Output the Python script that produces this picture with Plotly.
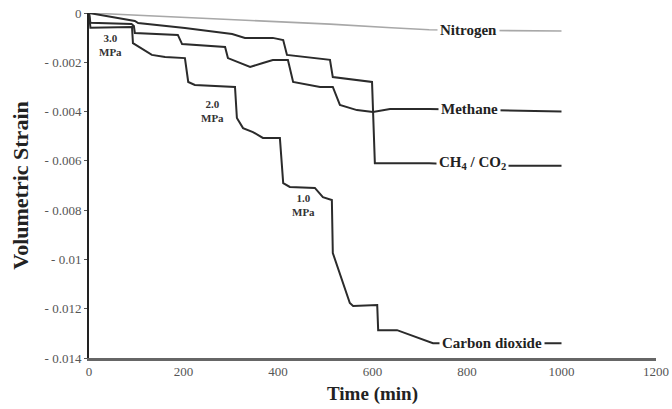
import plotly.graph_objects as go

# ---- data ----
nitrogen_t = [0, 100, 200, 300, 400, 510, 640, 720, 850, 1000]
nitrogen_s = [0, -0.00009, -0.00018, -0.00028, -0.00036, -0.00045, -0.0006, -0.00068, -0.00071, -0.00073]

methane_t = [0, 3, 90, 95, 97, 188, 197, 288, 294, 330, 341, 368, 389, 421, 432, 489, 516, 531, 567, 601, 637, 720, 850, 1000]
methane_s = [0, -0.0004, -0.00045, -0.00053, -0.00081, -0.00089, -0.00126, -0.00138, -0.00183, -0.00211, -0.00219,
             -0.00203, -0.00191, -0.00191, -0.0028, -0.003, -0.003, -0.00373, -0.00394, -0.00402, -0.0039, -0.0039,
             -0.00395, -0.004]

mix_t = [0, 50, 97, 104, 203, 303, 330, 389, 411, 419, 510, 516, 599, 605, 720, 850, 1000]
mix_s = [0, -0.00015, -0.00032, -0.00041, -0.00061, -0.00085, -0.00101, -0.00101, -0.0011, -0.0017, -0.0019,
         -0.0026, -0.0028, -0.0061, -0.0061, -0.0062, -0.0062]

co2_t = [0, 3, 91, 93, 133, 161, 203, 210, 224, 309, 313, 326, 347, 368, 404, 411, 425, 478, 495, 514, 516,
         552, 559, 610, 612, 652, 728, 850, 1000]
co2_s = [0, -0.0006, -0.00057, -0.00122, -0.0017, -0.00179, -0.00183, -0.0028, -0.00292, -0.003, -0.00426,
         -0.00467, -0.00483, -0.00507, -0.00507, -0.0069, -0.00706, -0.0071, -0.00747, -0.00759, -0.00974,
         -0.01177, -0.01189, -0.01185, -0.01287, -0.01287, -0.0134, -0.0134, -0.0134]

series_names = ["Nitrogen", "Methane", "CH<sub>4</sub> / CO<sub>2</sub>", "Carbon dioxide"]
label_t = [804, 806, 811, 853]
label_s = [-0.00069, -0.0039, -0.0061, -0.0134]

pressure_labels = ["3.0<br>MPa", "2.0<br>MPa", "1.0<br>MPa"]
pressure_t = [45, 262, 453]
pressure_s = [-0.00128, -0.00398, -0.0078]

x_ticks = [0, 200, 400, 600, 800, 1000, 1200]
y_ticks = [0, -0.002, -0.004, -0.006, -0.008, -0.01, -0.012, -0.014]
y_ticktext = ["0", "- 0.002", "- 0.004", "- 0.006", "- 0.008", "- 0.01", "- 0.012", "- 0.014"]

SERIF = "Liberation Serif, Times New Roman, serif"
DARK = "#2b2b2b"

fig = go.Figure()
fig.add_trace(go.Scatter(x=nitrogen_t, y=nitrogen_s, mode="lines",
                         line=dict(color="#a8a8a8", width=1.6), showlegend=False))
fig.add_trace(go.Scatter(x=methane_t, y=methane_s, mode="lines",
                         line=dict(color=DARK, width=2), showlegend=False))
fig.add_trace(go.Scatter(x=mix_t, y=mix_s, mode="lines",
                         line=dict(color=DARK, width=2), showlegend=False))
fig.add_trace(go.Scatter(x=co2_t, y=co2_s, mode="lines",
                         line=dict(color=DARK, width=2), showlegend=False))

for name, t, s in zip(series_names, label_t, label_s):
    fig.add_annotation(x=t, y=s, xref="x", yref="y", text="<b>" + name + "</b>", showarrow=False,
                       font=dict(family=SERIF, size=15, color="#222"), bgcolor="white", borderpad=2)

for name, t, s in zip(pressure_labels, pressure_t, pressure_s):
    fig.add_annotation(x=t, y=s, xref="x", yref="y", text="<b>" + name + "</b>", showarrow=False,
                       font=dict(family=SERIF, size=11, color="#333"))

fig.update_layout(
    width=672, height=409,
    margin=dict(l=89, r=16, t=13, b=51),
    paper_bgcolor="white", plot_bgcolor="white",
    font=dict(family=SERIF, color="#222"),
)
fig.update_xaxes(range=[0, 1200], tickvals=x_ticks, ticktext=[str(v) for v in x_ticks],
                 showgrid=False, zeroline=False, showline=True, linecolor="#666", linewidth=2.5,
                 ticks="", tickfont=dict(family=SERIF, size=13, color="#555"), automargin=False,
                 title=dict(text="<b>Time (min)</b>", font=dict(family=SERIF, size=19, color="#222"), standoff=9))
fig.update_yaxes(range=[-0.014, 0], tickvals=y_ticks, ticktext=y_ticktext,
                 showgrid=False, zeroline=False, showline=True, linecolor="#222", linewidth=2,
                 ticks="outside", ticklen=3, tickcolor="#555", automargin=False,
                 tickfont=dict(family=SERIF, size=13, color="#555"),
                 title=dict(text="<b>Volumetric Strain</b>", font=dict(family=SERIF, size=22, color="#222"), standoff=10))

fig.write_html("out.html", config={"displayModeBar": False},
               post_script="document.body.style.margin='0';document.body.style.padding='0';")
